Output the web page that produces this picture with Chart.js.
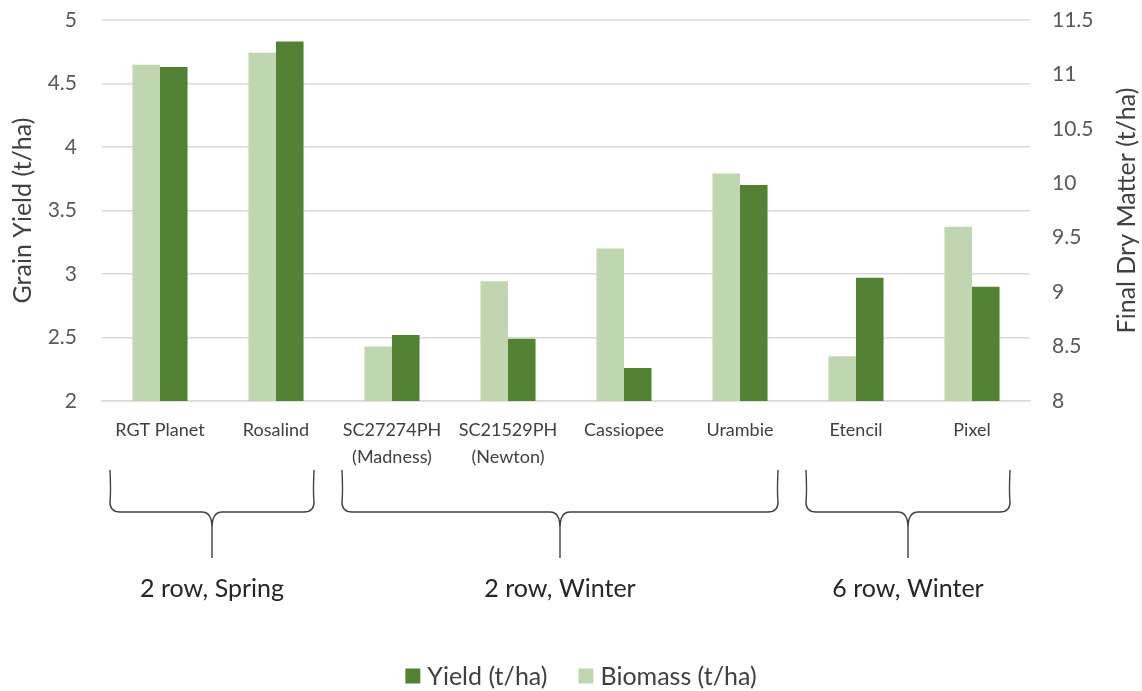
<!DOCTYPE html>
<html>
<head>
<meta charset="utf-8">
<script src="https://cdn.jsdelivr.net/npm/chart.js@4"></script>
<style>
  html, body { margin: 0; padding: 0; background: #fff; }
  #wrap { width: 1142px; height: 691px; position: relative; }
</style>
</head>
<body>
<div id="wrap"><canvas id="yieldChart"></canvas></div>
<script>
const varieties = [
    'RGT Planet', 'Rosalind', ['SC27274PH', '(Madness)'], ['SC21529PH', '(Newton)'],
    'Cassiopee', 'Urambie', 'Etencil', 'Pixel'
];
const biomass = [11.09, 11.2, 8.5, 9.1, 9.4, 10.09, 8.41, 9.6];
const grainYield = [4.63, 4.83, 2.52, 2.49, 2.26, 3.7, 2.97, 2.9];

// row type / sowing season groups, by first and last variety index
const groupNames = ['2 row, Spring', '2 row, Winter', '6 row, Winter'];
const groupFirst = [0, 2, 6];
const groupLast = [1, 5, 7];

const DARK = '#548235';
const LIGHT = '#bfd6b1';
const FONT = 'Lato, "Open Sans", sans-serif';
const RIGHT_TITLE = 'Final Dry Matter (t/ha)';

const groupBraces = {
    id: 'groupBraces',
    afterDraw(chart) {
        const ctx = chart.ctx;
        const x = chart.scales.x;
        const top = 470, mid = 512, bottom = 558, r = 10;
        ctx.save();
        ctx.strokeStyle = '#404040';
        ctx.lineWidth = 1.4;
        groupNames.forEach((name, g) => {
            const L = x.getPixelForValue(groupFirst[g]) - 50;
            const R = x.getPixelForValue(groupLast[g]) + 38;
            const C = (L + R) / 2;
            ctx.beginPath();
            ctx.moveTo(L, top);
            ctx.quadraticCurveTo(L + 1, mid - 20, L, mid - r);
            ctx.quadraticCurveTo(L, mid, L + r, mid);
            ctx.lineTo(C - r, mid);
            ctx.quadraticCurveTo(C, mid, C, mid + r + 6);
            ctx.lineTo(C, bottom);
            ctx.moveTo(R, top);
            ctx.quadraticCurveTo(R - 1, mid - 20, R, mid - r);
            ctx.quadraticCurveTo(R, mid, R - r, mid);
            ctx.lineTo(C + r, mid);
            ctx.quadraticCurveTo(C, mid, C, mid + r + 6);
            ctx.stroke();

            ctx.fillStyle = '#262626';
            ctx.font = '25px ' + FONT;
            ctx.textAlign = 'center';
            ctx.textBaseline = 'middle';
            ctx.fillText(name, C, 589);
        });
        ctx.restore();

        // right axis title, reading bottom to top like the left one
        const y1 = chart.scales.y1;
        ctx.save();
        ctx.translate(1127, (y1.top + y1.bottom) / 2);
        ctx.rotate(-Math.PI / 2);
        ctx.fillStyle = '#404040';
        ctx.font = '25px ' + FONT;
        ctx.textAlign = 'center';
        ctx.textBaseline = 'middle';
        ctx.fillText(RIGHT_TITLE, 0, 0);
        ctx.restore();
    }
};

// legend under the braces, Yield first
const bottomLegend = {
    id: 'bottomLegend',
    afterDraw(chart) {
        const ctx = chart.ctx;
        const items = chart.data.datasets.slice().reverse();
        const box = 15, gapText = 7, gapItem = 31, cy = 676;
        ctx.save();
        ctx.font = '25px ' + FONT;
        ctx.textBaseline = 'middle';
        ctx.textAlign = 'left';
        const widths = items.map(d => box + gapText + ctx.measureText(d.label).width);
        const total = widths.reduce((a, b) => a + b, 0) + gapItem * (items.length - 1);
        let x = 581 - total / 2;
        items.forEach((d, i) => {
            ctx.fillStyle = d.backgroundColor;
            ctx.fillRect(x, cy - box / 2, box, box);
            ctx.fillStyle = '#404040';
            ctx.fillText(d.label, x + box + gapText, cy + 1);
            x += widths[i] + gapItem;
        });
        ctx.restore();
    }
};

const tickText = v => String(v);

const ctx = document.getElementById('yieldChart').getContext('2d');
const chart = new Chart(ctx, {
    type: 'bar',
    data: {
        labels: varieties,
        datasets: [
            {
                label: 'Biomass (t/ha)',
                data: biomass,
                yAxisID: 'y1',
                backgroundColor: LIGHT,
                borderWidth: 0
            },
            {
                label: 'Yield (t/ha)',
                data: grainYield,
                yAxisID: 'y',
                backgroundColor: DARK,
                borderWidth: 0
            }
        ]
    },
    options: {
        responsive: true,
        maintainAspectRatio: false,
        animation: false,
        datasets: {
            bar: { categoryPercentage: 0.475, barPercentage: 1 }
        },
        layout: { padding: { top: 20, left: 4, right: 0, bottom: 0 } },
        plugins: {
            tooltip: { enabled: false },
            legend: { display: false }
        },
        scales: {
            x: {
                grid: { display: false, drawTicks: false },
                border: { color: '#d9d9d9', width: 1.5 },
                ticks: {
                    color: '#404040',
                    font: { family: FONT, size: 18, lineHeight: 1.5 },
                    padding: 16,
                    maxRotation: 0,
                    autoSkip: false
                },
                afterFit(scale) { scale.height = 290; }
            },
            y: {
                position: 'left',
                min: 2,
                max: 5,
                ticks: {
                    stepSize: 0.5,
                    color: '#595959',
                    font: { family: FONT, size: 21 },
                    padding: 0,
                    callback: tickText
                },
                grid: {
                    color: '#d9d9d9',
                    lineWidth: 1.5,
                    drawTicks: true,
                    tickLength: 25,
                    tickColor: 'rgba(0,0,0,0)'
                },
                border: { display: false },
                title: {
                    display: true,
                    text: 'Grain Yield (t/ha)',
                    color: '#404040',
                    font: { family: FONT, size: 25 },
                    padding: { top: 4, bottom: 0 }
                },
                afterFit(scale) { scale.width = 98; }
            },
            y1: {
                position: 'right',
                min: 8,
                max: 11.5,
                ticks: {
                    stepSize: 0.5,
                    color: '#595959',
                    font: { family: FONT, size: 21 },
                    padding: 0,
                    callback: tickText
                },
                grid: {
                    drawOnChartArea: false,
                    drawTicks: true,
                    tickLength: 22,
                    tickColor: 'rgba(0,0,0,0)'
                },
                border: { display: false },
                afterFit(scale) { scale.width = 112; }
            }
        }
    },
    plugins: [groupBraces, bottomLegend]
});
</script>
</body>
</html>
